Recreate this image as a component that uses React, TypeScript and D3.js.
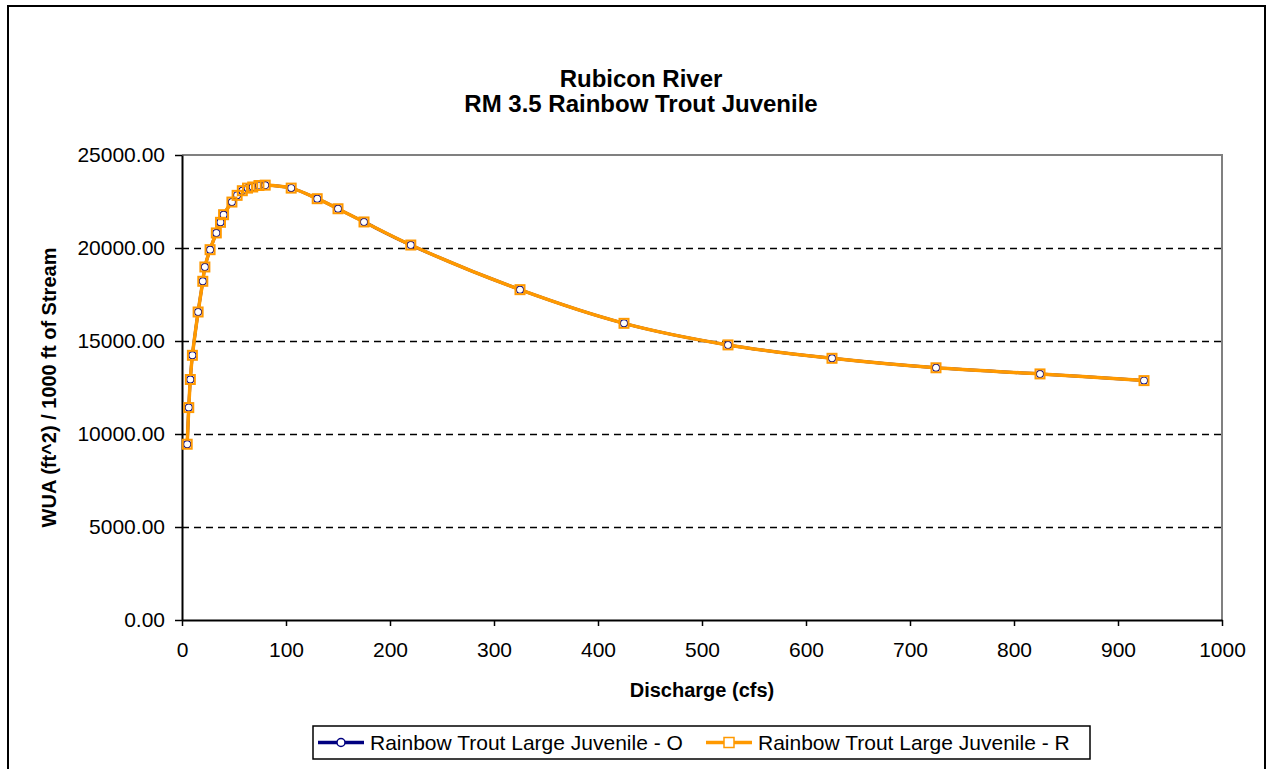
import React, { useEffect, useRef } from 'react';
import * as d3 from 'd3';

// discharge (cfs) and WUA per 1000 ft
const discharge = [5, 6.5, 8, 10, 15.5, 20, 22, 27, 33, 37, 40, 48, 53, 58, 63, 68, 74, 80, 105, 130, 150, 175, 220, 325, 425, 525, 625, 725, 825, 925];
const wuaO = [9450, 11420, 12930, 14230, 16560, 18210, 18980, 19910, 20810, 21380, 21790, 22470, 22830, 23080, 23220, 23280, 23360, 23380, 23220, 22650, 22110, 21400, 20160, 17760, 15950, 14790, 14070, 13560, 13230, 12870];
const wuaR = [9450, 11420, 12930, 14230, 16560, 18210, 18980, 19910, 20810, 21380, 21790, 22470, 22830, 23080, 23220, 23280, 23360, 23380, 23220, 22650, 22110, 21400, 20160, 17760, 15950, 14790, 14070, 13560, 13230, 12870];

const xTicks = [0, 100, 200, 300, 400, 500, 600, 700, 800, 900, 1000];
const yTicks = [0, 5000, 10000, 15000, 20000, 25000];
const titleLines = ['Rubicon River', 'RM 3.5 Rainbow Trout Juvenile'];
const seriesNames = ['Rainbow Trout Large Juvenile - O', 'Rainbow Trout Large Juvenile - R'];

const NAVY = '#000080';
const ORANGE = '#FF9900';
const FONT = 'Arial, "Liberation Sans", sans-serif';

const App: React.FC = () => {
  const ref = useRef<SVGSVGElement>(null);

  useEffect(() => {
    if (!ref.current) return;
    const svg = d3.select(ref.current);
    svg.selectAll('*').remove();

    const W = 1273, H = 769;
    const plot = { left: 182, right: 1222, top: 155, bottom: 620 };

    const x = d3.scaleLinear().domain([0, 1000]).range([plot.left, plot.right]);
    const y = d3.scaleLinear().domain([0, 25000]).range([plot.bottom, plot.top]);

    svg.append('rect').attr('width', W).attr('height', H).attr('fill', '#fff');

    // outer chart frame
    svg.append('rect')
      .attr('x', 8).attr('y', 6)
      .attr('width', 1257).attr('height', 820)
      .attr('fill', 'none').attr('stroke', '#000').attr('stroke-width', 2);

    // title
    svg.append('g').selectAll('text')
      .data(titleLines)
      .enter()
      .append('text')
      .attr('x', 641)
      .attr('y', (_, i) => 87 + i * 25)
      .attr('text-anchor', 'middle')
      .style('font-family', FONT)
      .style('font-weight', 'bold')
      .style('font-size', '24px')
      .text(d => d);

    // gridlines
    svg.append('g').selectAll('line')
      .data(yTicks.filter(t => t > 0 && t < 25000))
      .enter()
      .append('line')
      .attr('x1', plot.left).attr('x2', plot.right)
      .attr('y1', d => Math.round(y(d)) + 0.5).attr('y2', d => Math.round(y(d)) + 0.5)
      .attr('stroke', '#000').attr('stroke-width', 1.3)
      .attr('stroke-dasharray', '7,5');

    // plot frame top/right in grey
    svg.append('path')
      .attr('d', `M${plot.left},${plot.top}H${plot.right}V${plot.bottom}`)
      .attr('fill', 'none').attr('stroke', '#808080').attr('stroke-width', 2);

    // axes
    const xAxis = svg.append('g')
      .attr('transform', `translate(0,${plot.bottom})`)
      .call(d3.axisBottom(x).tickValues(xTicks).tickFormat(d3.format('d')).tickSize(6).tickSizeOuter(0).tickPadding(16));
    xAxis.select('.domain').attr('stroke', '#000').attr('stroke-width', 2);
    xAxis.selectAll('.tick line').attr('stroke', '#000').attr('stroke-width', 1.5);
    xAxis.selectAll('.tick text')
      .style('font-family', FONT).style('font-size', '21px').attr('fill', '#000');

    const yAxis = svg.append('g')
      .attr('transform', `translate(${plot.left},0)`)
      .call(d3.axisLeft(y).tickValues(yTicks).tickFormat(d3.format('.2f')).tickSize(7).tickSizeOuter(0).tickPadding(10));
    yAxis.select('.domain').attr('stroke', '#000').attr('stroke-width', 2);
    yAxis.selectAll('.tick line').attr('stroke', '#000').attr('stroke-width', 1.5);
    yAxis.selectAll('.tick text')
      .style('font-family', FONT).style('font-size', '21px').attr('fill', '#000');

    // axis titles
    svg.append('text')
      .attr('x', (plot.left + plot.right) / 2)
      .attr('y', 697)
      .attr('text-anchor', 'middle')
      .style('font-family', FONT).style('font-weight', 'bold').style('font-size', '20px')
      .text('Discharge (cfs)');

    svg.append('text')
      .attr('transform', `translate(56,${(plot.top + plot.bottom) / 2}) rotate(-90)`)
      .attr('text-anchor', 'middle')
      .style('font-family', FONT).style('font-weight', 'bold').style('font-size', '20px')
      .text('WUA (ft^2) / 1000 ft of Stream');

    // smoothed lines
    const line = d3.line<number>()
      .x((_, i) => x(discharge[i]))
      .y(d => y(d))
      .curve(d3.curveCatmullRom.alpha(0.5));

    svg.append('path').datum(wuaO)
      .attr('d', line).attr('fill', 'none')
      .attr('stroke', NAVY).attr('stroke-width', 3);
    svg.append('path').datum(wuaR)
      .attr('d', line).attr('fill', 'none')
      .attr('stroke', ORANGE).attr('stroke-width', 3.5);

    // markers
    svg.append('g').selectAll('circle')
      .data(wuaO)
      .enter()
      .append('circle')
      .attr('cx', (_, i) => x(discharge[i]))
      .attr('cy', d => y(d))
      .attr('r', 3.6)
      .attr('fill', '#fff').attr('stroke', NAVY).attr('stroke-width', 1.2);

    svg.append('g').selectAll('rect')
      .data(wuaR)
      .enter()
      .append('rect')
      .attr('x', (_, i) => x(discharge[i]) - 4.5)
      .attr('y', d => y(d) - 4.5)
      .attr('width', 9).attr('height', 9)
      .attr('fill', 'none').attr('stroke', ORANGE).attr('stroke-width', 2);

    // legend
    const legend = svg.append('g');
    legend.append('rect')
      .attr('x', 313).attr('y', 726).attr('width', 777).attr('height', 33)
      .attr('fill', '#fff').attr('stroke', '#000').attr('stroke-width', 1.5);

    const items = [
      { name: seriesNames[0], color: NAVY, x0: 318, shape: 'circle' },
      { name: seriesNames[1], color: ORANGE, x0: 706, shape: 'square' },
    ];
    const ly = 742.5;
    items.forEach(it => {
      legend.append('line')
        .attr('x1', it.x0).attr('x2', it.x0 + 46)
        .attr('y1', ly).attr('y2', ly)
        .attr('stroke', it.color).attr('stroke-width', 3.5);
      if (it.shape === 'circle') {
        legend.append('circle')
          .attr('cx', it.x0 + 23).attr('cy', ly).attr('r', 4)
          .attr('fill', '#fff').attr('stroke', it.color).attr('stroke-width', 1.5);
      } else {
        legend.append('rect')
          .attr('x', it.x0 + 23 - 5).attr('y', ly - 5).attr('width', 10).attr('height', 10)
          .attr('fill', '#fff').attr('stroke', it.color).attr('stroke-width', 1.5);
      }
      legend.append('text')
        .attr('x', it.x0 + 52)
        .attr('y', ly + 7.5)
        .style('font-family', FONT).style('font-size', '21px')
        .text(it.name);
    });
  }, []);

  return (
    <svg ref={ref} width={1273} height={769}
      style={{ position: 'absolute', left: 0, top: 0, display: 'block' }} />
  );
};

export default App;
